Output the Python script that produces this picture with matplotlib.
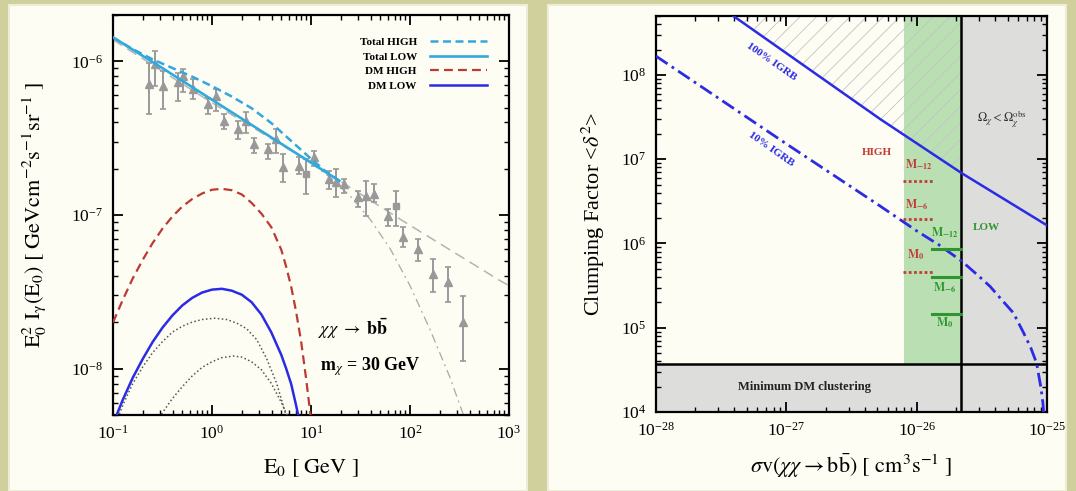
import numpy as np
import matplotlib
matplotlib.use('Agg')
import matplotlib.pyplot as plt
from matplotlib.patches import Rectangle
from matplotlib.ticker import LogLocator, NullFormatter

plt.rcParams['font.family'] = 'serif'
plt.rcParams['font.serif'] = ['Liberation Serif', 'DejaVu Serif']
plt.rcParams['mathtext.fontset'] = 'stix'
plt.rcParams['hatch.linewidth'] = 0.6

# ---------------- left panel: IGRB spectrum [GeV, GeV cm^-2 s^-1 sr^-1]
E_tri = [0.231, 0.265, 0.322, 0.457, 0.506, 0.647, 0.918, 1.10, 1.32, 1.85, 2.19,
         2.65, 3.71, 4.40, 5.25, 7.62, 10.7, 15.2, 17.9, 21.7, 30.1, 35.6, 43.3,
         60.4, 85.7, 121, 169, 244, 346]
F_tri = [7.10e-7, 9.57e-7, 6.92e-7, 7.28e-7, 8.04e-7, 6.58e-7, 5.26e-7, 5.96e-7,
         4.10e-7, 3.61e-7, 4.10e-7, 2.89e-7, 2.69e-7, 3.12e-7, 2.04e-7, 2.09e-7,
         2.37e-7, 1.71e-7, 1.63e-7, 1.59e-7, 1.30e-7, 1.33e-7, 1.37e-7, 9.9e-8,
         7.16e-8, 6.01e-8, 4.14e-8, 3.66e-8, 2.01e-8]
F_tri_lo = [4.53e-7, 6.92e-7, 4.88e-7, 5.52e-7, 6.27e-7, 5.66e-7, 4.53e-7, 4.76e-7,
            3.61e-7, 3.12e-7, 3.44e-7, 2.55e-7, 2.31e-7, 2.55e-7, 1.63e-7, 1.85e-7,
            2.09e-7, 1.48e-7, 1.30e-7, 1.40e-7, 1.12e-7, 9.9e-8, 1.21e-7, 8.5e-8,
            6.17e-8, 5.05e-8, 3.15e-8, 2.71e-8, 1.13e-8]
F_tri_hi = [9.79e-7, 1.17e-6, 8.65e-7, 8.45e-7, 8.87e-7, 7.64e-7, 5.81e-7, 6.58e-7,
            4.53e-7, 4.09e-7, 4.65e-7, 3.19e-7, 2.89e-7, 3.61e-7, 2.49e-7, 2.37e-7,
            2.62e-7, 1.94e-7, 1.99e-7, 1.71e-7, 1.44e-7, 1.67e-7, 1.59e-7, 1.09e-7,
            8.32e-8, 6.98e-8, 5.18e-8, 4.57e-8, 2.99e-8]
E_sq = [8.89, 71.6]
F_sq = [1.85e-7, 1.15e-7]
F_sq_lo = [1.37e-7, 8.5e-8]
F_sq_hi = [2.31e-7, 1.44e-7]

E_tot_low = [0.1, 0.316, 1.0, 3.16, 10, 19.3]
F_tot_low = [1.43e-6, 9.02e-7, 5.62e-7, 3.51e-7, 2.19e-7, 1.67e-7]
E_tot_high = [0.1, 0.158, 0.251, 0.398, 0.631, 1.0, 1.58, 2.51, 3.98, 6.31, 10, 14.1, 19.3]
F_tot_high = [1.43e-6, 1.20e-6, 1.03e-6, 9.04e-7, 7.94e-7, 6.89e-7, 5.90e-7, 4.95e-7,
              3.96e-7, 3.03e-7, 2.32e-7, 1.92e-7, 1.67e-7]
E_bg = [0.1, 1.0, 10, 89.1, 813, 1000]
F_bg = [1.38e-6, 5.37e-7, 2.19e-7, 8.97e-8, 3.74e-8, 3.47e-8]
E_cut = [10, 15.8, 25.1, 39.8, 63.1, 100, 158, 251, 355]
F_cut = [2.19e-7, 1.74e-7, 1.32e-7, 9.33e-8, 6.03e-8, 3.47e-8, 1.82e-8, 8.91e-9, 4.79e-9]

E_dm_high = [0.1, 0.126, 0.158, 0.2, 0.251, 0.316, 0.398, 0.501, 0.631, 0.794, 1.0,
             1.26, 1.58, 2.0, 2.51, 3.16, 3.98, 5.01, 5.62, 6.31, 7.08, 7.94, 8.91,
             10.0, 10.5]
F_dm_high = [2.0e-8, 2.82e-8, 3.86e-8, 5.12e-8, 6.56e-8, 8.15e-8, 9.77e-8, 1.135e-7,
             1.27e-7, 1.38e-7, 1.46e-7, 1.48e-7, 1.45e-7, 1.36e-7, 1.20e-7, 1.02e-7,
             8.32e-8, 5.94e-8, 4.60e-8, 3.41e-8, 2.34e-8, 1.51e-8, 8.7e-9, 4.68e-9,
             3.55e-9]
E_dm_low = [0.1, 0.126, 0.158, 0.2, 0.251, 0.316, 0.398, 0.501, 0.631, 0.794, 1.0,
            1.26, 1.58, 2.0, 2.51, 3.16, 3.98, 5.01, 5.62, 6.31, 7.08, 7.59]
F_dm_low = [4.37e-9, 6.31e-9, 8.71e-9, 1.16e-8, 1.49e-8, 1.85e-8, 2.22e-8, 2.58e-8,
            2.89e-8, 3.13e-8, 3.27e-8, 3.31e-8, 3.22e-8, 3.03e-8, 2.71e-8, 2.25e-8,
            1.72e-8, 1.23e-8, 1.0e-8, 7.94e-9, 5.75e-9, 4.68e-9]
E_dot1 = [0.112, 0.126, 0.158, 0.2, 0.251, 0.316, 0.398, 0.501, 0.631, 0.794, 1.07,
          1.41, 1.78, 2.24, 2.82, 3.55, 4.47, 5.01, 5.62]
F_dot1 = [4.79e-9, 5.82e-9, 7.98e-9, 1.03e-8, 1.27e-8, 1.50e-8, 1.73e-8, 1.89e-8,
          2.01e-8, 2.09e-8, 2.13e-8, 2.09e-8, 1.98e-8, 1.82e-8, 1.55e-8, 1.17e-8,
          8.13e-9, 6.37e-9, 4.9e-9]
E_dot2 = [0.282, 0.316, 0.398, 0.501, 0.631, 0.794, 1.0, 1.26, 1.64, 2.0, 2.51, 3.16,
          3.98, 5.01, 5.89]
F_dot2 = [4.57e-9, 5.18e-9, 6.4e-9, 7.64e-9, 8.97e-9, 1.02e-8, 1.11e-8, 1.18e-8,
          1.21e-8, 1.19e-8, 1.11e-8, 9.84e-9, 8.02e-9, 6.05e-9, 4.81e-9]

# ---------------- right panel: clumping factor vs <sigma v>
sv_igrb100 = [2.51e-28, 3.80e-28, 5.25e-27, 2.22e-26, 1e-25]
C_igrb100 = [8.13e8, 5.18e8, 2.99e7, 6.81e6, 1.64e6]
sv_igrb10 = [1e-28, 1e-27, 5.24e-27, 1e-26, 1.5e-26, 2.22e-26, 3e-26, 3.66e-26, 4.5e-26,
             5.52e-26, 6.61e-26, 7.5e-26, 8.32e-26, 9e-26, 9.3e-26, 9.6e-26]
C_igrb10 = [1.67e8, 1.52e7, 2.78e6, 1.41e6, 9.5e5, 6.15e5, 4.09e5, 3.09e5, 2.14e5,
            1.50e5, 8.71e4, 5.81e4, 3.8e4, 1.91e4, 1.28e4, 6.9e3]
sv_band = [8e-27, 2.2e-26]          # green band
sv_relic = 2.2e-26                  # Omega_chi < Omega_obs to the right
C_min = 3.7e4                       # minimum DM clustering
sv_high = [7.9e-27, 1.34e-26]
C_high = [5.5e6, 1.93e6, 4.56e5]    # M-12, M-6, M0
sv_low = [1.31e-26, 2.2e-26]
C_low = [8.65e5, 3.97e5, 1.46e5]

cyan = '#33a8de'
red = '#bd3a34'
blue = '#2b2be6'
grey = '#999999'
green = '#2f962f'

fig = plt.figure(figsize=(10.76, 4.91), dpi=100, facecolor='#cfd09c')
fig.add_artist(Rectangle((9 / 1076, 0), 518 / 1076, 486 / 491, transform=fig.transFigure,
                         facecolor='#fdfdf4', edgecolor='#ecedd6', lw=1.5, zorder=0))
fig.add_artist(Rectangle((548 / 1076, 0), 518 / 1076, 486 / 491, transform=fig.transFigure,
                         facecolor='#fdfdf4', edgecolor='#ecedd6', lw=1.5, zorder=0))

axL = fig.add_axes([113 / 1076, 76 / 491, 396 / 1076, 400 / 491])
axR = fig.add_axes([656 / 1076, 79 / 491, 391 / 1076, 396 / 491])

for ax in (axL, axR):
    ax.set_facecolor('#fdfdf4')
    ax.set_xscale('log')
    ax.set_yscale('log')
    ax.xaxis.set_major_locator(LogLocator(base=10, numticks=20))
    ax.yaxis.set_major_locator(LogLocator(base=10, numticks=20))
    ax.xaxis.set_minor_locator(LogLocator(base=10, subs=np.arange(2, 10), numticks=20))
    ax.yaxis.set_minor_locator(LogLocator(base=10, subs=np.arange(2, 10), numticks=20))
    ax.xaxis.set_minor_formatter(NullFormatter())
    ax.yaxis.set_minor_formatter(NullFormatter())
    ax.tick_params(which='both', direction='in', top=True, right=True, labelsize=12.5)
    ax.tick_params(which='major', length=7, width=1.3, pad=7)
    ax.tick_params(which='minor', length=3.5, width=1.0)
    for s in ax.spines.values():
        s.set_linewidth(1.6)

# ---- left panel
axL.plot(E_bg, F_bg, color='#b4b4b4', lw=1.1, dashes=(7, 4), zorder=1)
axL.plot(E_cut, F_cut, color='#a8a8a8', lw=0.9, dashes=(7, 3.5, 1.5, 3.5), zorder=1)
E_tri, F_tri = np.array(E_tri), np.array(F_tri)
axL.errorbar(E_tri, F_tri, yerr=[F_tri - np.array(F_tri_lo), np.array(F_tri_hi) - F_tri],
             fmt='^', color=grey, ms=5.5, capsize=2.5, elinewidth=1.4, capthick=1.2, zorder=2)
E_sq, F_sq = np.array(E_sq), np.array(F_sq)
axL.errorbar(E_sq, F_sq, yerr=[F_sq - np.array(F_sq_lo), np.array(F_sq_hi) - F_sq],
             fmt='s', color=grey, ms=5, capsize=2.5, elinewidth=1.4, capthick=1.2, zorder=2)

axL.plot(E_tot_high, F_tot_high, color=cyan, lw=1.8, dashes=(3.2, 1.8), label='Total HIGH', zorder=3)
axL.plot(E_tot_low, F_tot_low, color=cyan, lw=1.9, label='Total LOW', zorder=3)
axL.plot(E_dm_high, F_dm_high, color=red, lw=1.6, dashes=(4, 2.3), label='DM HIGH', zorder=3)
axL.plot(E_dm_low, F_dm_low, color=blue, lw=1.8, label='DM LOW', zorder=3)
axL.plot(E_dot1, F_dot1, color='#555555', lw=1.1, ls=(0, (1, 1.6)), zorder=3)
axL.plot(E_dot2, F_dot2, color='#555555', lw=1.1, ls=(0, (1, 1.6)), zorder=3)

axL.set_xlim(0.1, 1000)
axL.set_ylim(5e-9, 2e-6)
leg = axL.legend(loc='upper right', bbox_to_anchor=(0.944, 0.945), frameon=False,
                 markerfirst=False, prop={'weight': 'bold', 'size': 8},
                 handlelength=5.1, handletextpad=1.2, labelspacing=0.45,
                 borderpad=0, borderaxespad=0)
axL.text(11.8, 1.82e-8, r'$\chi\chi\ \rightarrow\ \mathbf{b\bar{b}}$', fontsize=13,
         ha='left', va='center')
axL.text(12.3, 1.03e-8, r'$\mathbf{m}_{\chi}$ = 30 GeV', fontsize=13, fontweight='bold',
         ha='left', va='center')
axL.set_xlabel(r'$\mathrm{E_0\ [\ GeV\ ]}$', fontsize=16)
axL.set_ylabel(r'$\mathrm{E_0^2\ I_\gamma(E_0)\ [\ GeVcm^{-2}s^{-1}sr^{-1}\ ]}$', fontsize=16)
axL.xaxis.set_label_coords(0.5, -0.105)
axL.yaxis.set_label_coords(-0.165, 0.5)

# ---- right panel
axR.fill_between(sv_band, C_min, 1e9, color='#b9dfb3', lw=0, zorder=0.5)
axR.fill_between(sv_igrb100, C_igrb100, 1e9, hatch='//', facecolor='none',
                 edgecolor='#c4c4c4', lw=0, zorder=0.6)
axR.axvspan(sv_relic, 1e-25, color='#dddddb', lw=0, zorder=0.7)
axR.axhspan(1e4, C_min, color='#dddddb', lw=0, zorder=0.7)
axR.axvline(sv_relic, color='black', lw=1.8, zorder=2)
axR.axhline(C_min, color='black', lw=1.8, zorder=2)

axR.plot(sv_igrb100, C_igrb100, color=blue, lw=1.8, zorder=3)
axR.plot(sv_igrb10, C_igrb10, color=blue, lw=2.0, dashes=(5, 1.8, 1, 1.8), zorder=3)
for c in C_high:
    axR.plot(sv_high, [c, c], color='#c43c36', lw=2.0, ls=(0, (1, 0.9)), zorder=3)
for c in C_low:
    axR.plot(sv_low, [c, c], color=green, lw=2.2, zorder=3)

axR.set_xlim(1e-28, 1e-25)
axR.set_ylim(1e4, 5e8)

txt = dict(fontsize=8, fontweight='bold', ha='center', va='center')
axR.text(7.7e-28, 1.42e8, '100% IGRB', color=blue, rotation=-35, rotation_mode='anchor', **txt)
axR.text(7.7e-28, 1.31e7, '10% IGRB', color=blue, rotation=-35, rotation_mode='anchor', **txt)
axR.text(4.94e-27, 1.2e7, 'HIGH', color='#c43c36', **txt)
axR.text(1.03e-26, 8.7e6, r'$\mathbf{M_{-12}}$', color='#c43c36', fontsize=8.5, ha='center', va='center')
axR.text(1.0e-26, 2.9e6, r'$\mathbf{M_{-6}}$', color='#c43c36', fontsize=8.5, ha='center', va='center')
axR.text(0.98e-26, 7.4e5, r'$\mathbf{M_{0}}$', color='#c43c36', fontsize=8.5, ha='center', va='center')
axR.text(1.65e-26, 1.34e6, r'$\mathbf{M_{-12}}$', color=green, fontsize=8.5, ha='center', va='center')
axR.text(1.65e-26, 2.97e5, r'$\mathbf{M_{-6}}$', color=green, fontsize=8.5, ha='center', va='center')
axR.text(1.65e-26, 1.14e5, r'$\mathbf{M_{0}}$', color=green, fontsize=8.5, ha='center', va='center')
axR.text(3.45e-26, 1.54e6, 'LOW', color=green, **txt)
axR.text(4.5e-26, 3.0e7, r'$\Omega_\chi < \Omega_\chi^{\rm obs}$', color='#333333', fontsize=9,
         ha='center', va='center')
axR.text(1.39e-27, 2.0e4, 'Minimum DM clustering', color='#222222', fontsize=9,
         fontweight='bold', ha='center', va='center')

axR.set_xlabel(r'$\sigma\mathrm{v}(\chi\chi \rightarrow \mathrm{b\bar{b}})\ [\ \mathrm{cm^3s^{-1}}\ ]$',
               fontsize=16)
axR.set_ylabel(r'Clumping Factor <$\delta^2$>', fontsize=16)
axR.xaxis.set_label_coords(0.5, -0.098)
axR.yaxis.set_label_coords(-0.125, 0.5)

fig.savefig('out.png', dpi=100, facecolor=fig.get_facecolor())
